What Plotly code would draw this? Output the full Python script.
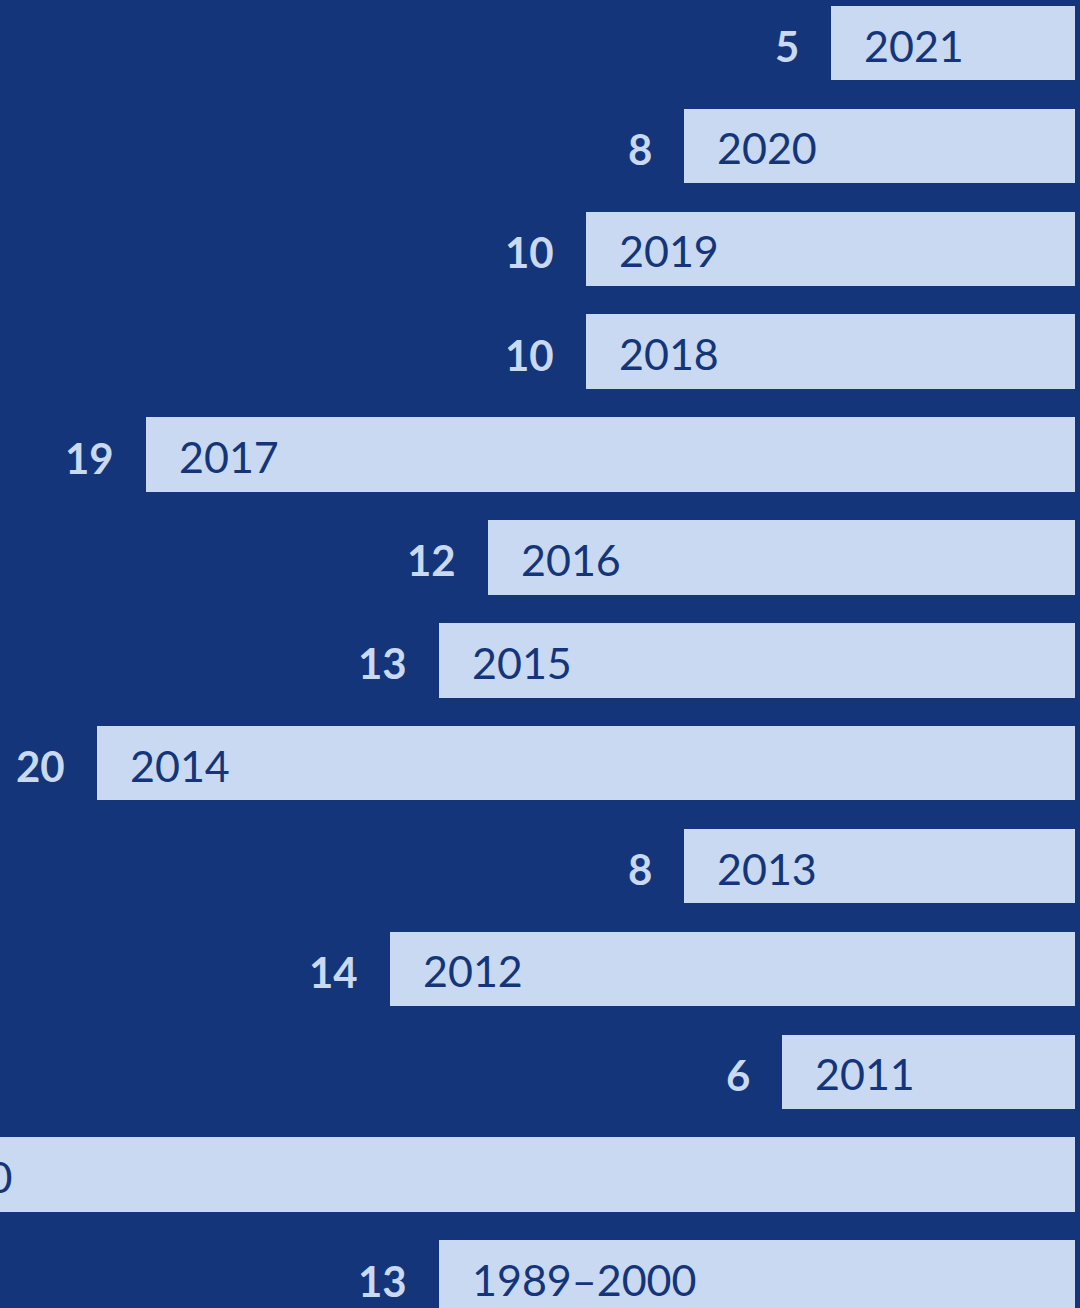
import plotly.graph_objects as go

categories = ["2021", "2020", "2019", "2018", "2017", "2016", "2015", "2014",
              "2013", "2012", "2011", "2001–2010", "1989–2000"]
values = [5, 8, 10, 10, 19, 12, 13, 20, 8, 14, 6, 27, 13]

BG = "#143579"
BAR = "#c8d9f1"
FONT = "Lato"

idx = list(range(len(categories)))

px_per_unit = 48.9
row_pitch = 102.88
first_center = 43.0
bar_px = 74.5
x_left = 1075 / px_per_unit
x_right = -5 / px_per_unit
y_top = -first_center / row_pitch
y_bottom = (1308 - first_center) / row_pitch


def x_domain(v):
    """Position of value v as a fraction of the (reversed) x-axis domain."""
    return (x_left - v) / (x_left - x_right)


fig = go.Figure()
fig.add_trace(go.Bar(
    x=values, y=idx, orientation="h",
    marker=dict(color=BAR, line=dict(width=0)),
    width=bar_px / row_pitch, hoverinfo="skip",
))

annotations = []
for i, (c, v) in enumerate(zip(categories, values)):
    # category label inside the bar, near its start (domain ref so it may run off-screen)
    annotations.append(dict(
        x=x_domain(v), y=i, xref="x domain", yref="y", text=c, showarrow=False,
        xanchor="left", yanchor="middle", xshift=31, yshift=-2,
        font=dict(family=FONT, size=43, color=BG),
    ))
    # value label left of the bar
    annotations.append(dict(
        x=x_domain(v), y=i, xref="x domain", yref="y", text=f"<b>{v}</b>",
        showarrow=False, xanchor="right", yanchor="middle", xshift=-30, yshift=-3,
        font=dict(family=FONT, size=42, color=BAR),
    ))

fig.update_layout(
    width=1080, height=1308,
    margin=dict(l=0, r=0, t=0, b=0),
    paper_bgcolor=BG, plot_bgcolor=BG,
    showlegend=False,
    xaxis=dict(range=[x_left, x_right], visible=False, fixedrange=True),
    yaxis=dict(range=[y_bottom, y_top], visible=False, fixedrange=True),
    bargap=0,
    annotations=annotations,
)

fig.write_html("out.html", config={"displayModeBar": False})
